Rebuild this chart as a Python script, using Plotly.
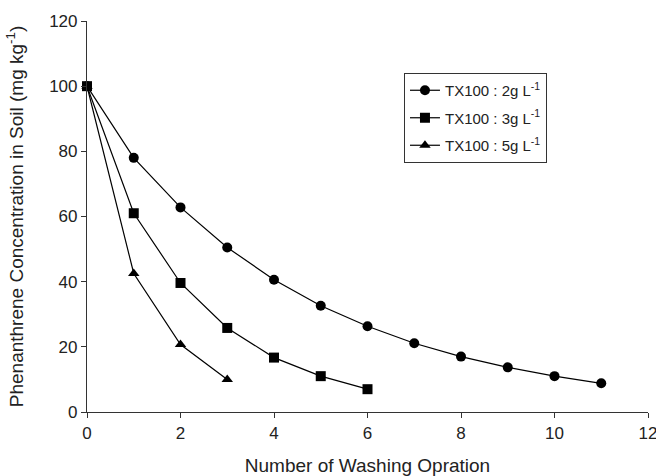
import plotly.graph_objects as go

x_2g = [0, 1, 2, 3, 4, 5, 6, 7, 8, 9, 10, 11]
y_2g = [100, 78, 62.8, 50.5, 40.6, 32.6, 26.3, 21.1, 17.0, 13.7, 11.0, 8.8]
x_3g = [0, 1, 2, 3, 4, 5, 6]
y_3g = [100, 61, 39.6, 25.8, 16.7, 11.0, 7.0]
x_5g = [0, 1, 2, 3]
y_5g = [100, 42.5, 20.7, 10.0]

names = ["TX100 : 2g L<sup>-1</sup>", "TX100 : 3g L<sup>-1</sup>", "TX100 : 5g L<sup>-1</sup>"]
symbols = ["circle", "square", "triangle-up"]

fig = go.Figure()
for i, (xs, ys, nm, sym) in enumerate([(x_2g, y_2g, names[0], symbols[0]),
                                       (x_3g, y_3g, names[1], symbols[1]),
                                       (x_5g, y_5g, names[2], symbols[2])]):
    fig.add_trace(go.Scatter(x=xs, y=ys, mode="lines+markers", name=nm,
                             legendgroup=f"g{i}",
                             line=dict(color="black", width=1.2),
                             marker=dict(symbol=sym, size=10, color="black"),
                             cliponaxis=False))

fig.update_layout(
    width=656, height=476,
    margin=dict(l=87, r=8, t=21, b=64),
    paper_bgcolor="white", plot_bgcolor="white",
    font=dict(family="Liberation Sans, Arial, sans-serif", size=16, color="#222"),
    showlegend=True,
    legend=dict(x=0.565, y=0.867, xanchor="left", yanchor="top",
                bordercolor="#333", borderwidth=1, bgcolor="white",
                font=dict(size=15), tracegroupgap=5,
                itemwidth=30),
)
fig.update_xaxes(range=[0, 12], tickvals=[0, 2, 4, 6, 8, 10, 12],
                 showline=True, linecolor="#333", linewidth=1.2,
                 ticks="outside", ticklen=5, tickcolor="#333",
                 tickfont=dict(size=17), ticklabeloverflow="allow",
                 showgrid=False, zeroline=False, automargin=False,
                 title=dict(text="Number of Washing Opration", standoff=22))
fig.update_yaxes(range=[0, 120], tickvals=[0, 20, 40, 60, 80, 100, 120],
                 showline=True, linecolor="#333", linewidth=1.2,
                 ticks="outside", ticklen=5, tickcolor="#333",
                 tickfont=dict(size=17), ticklabeloverflow="allow",
                 showgrid=False, zeroline=False, automargin=False,
                 title=dict(text="Phenanthrene Concentration in Soil (mg kg<sup>-1</sup>)", standoff=20))

fig.write_html("out.html")
